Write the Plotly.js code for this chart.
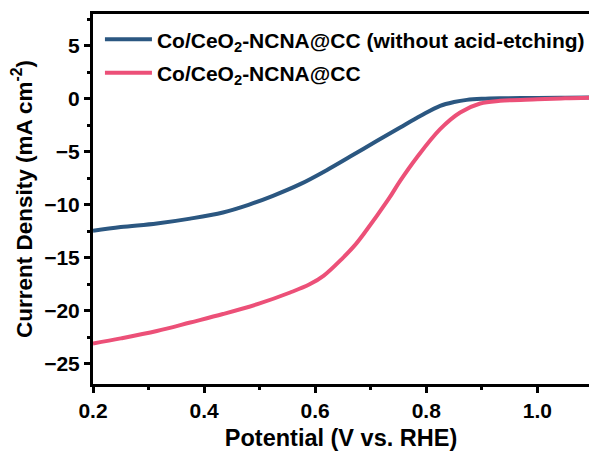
<!DOCTYPE html>
<html>
<head>
<meta charset="utf-8">
<script src="https://cdn.plot.ly/plotly-3.0.1.min.js"></script>
<style>html,body{margin:0;padding:0;background:#fff;}#chart{width:589px;height:457px;}</style>
</head>
<body>
<div id="chart"></div>
<script>
// Potential (V vs. RHE) and current density (mA cm^-2)
const potentialA = [0.20, 0.25, 0.315, 0.375, 0.434, 0.48, 0.524, 0.573, 0.62, 0.663, 0.71, 0.753, 0.79, 0.825, 0.85, 0.873, 0.90, 0.933, 1.0, 1.05, 1.095];
const currentA   = [-12.45, -12.1, -11.76, -11.3, -10.72, -10.0, -9.15, -8.05, -6.75, -5.45, -4.0, -2.7, -1.6, -0.66, -0.3, -0.1, 0.0, 0.05, 0.08, 0.1, 0.12];
const potentialB = [0.20, 0.25, 0.315, 0.375, 0.434, 0.50, 0.555, 0.59, 0.615, 0.65, 0.67, 0.687, 0.732, 0.753, 0.783, 0.825, 0.861, 0.897, 0.933, 1.0, 1.05, 1.095];
const currentB   = [-23.08, -22.6, -21.9, -21.1, -20.3, -19.3, -18.27, -17.5, -16.7, -15.0, -13.9, -12.77, -9.47, -7.74, -5.53, -2.86, -1.29, -0.44, -0.19, -0.05, 0.05, 0.1];
const seriesNames = ['Co/CeO<sub>2</sub>-NCNA@CC (without acid-etching)', 'Co/CeO<sub>2</sub>-NCNA@CC'];
const xTickVals = [0.2, 0.4, 0.6, 0.8, 1.0];
const xTickText = ['0.2', '0.4', '0.6', '0.8', '1.0'];
const yTickVals = [5, 0, -5, -10, -15, -20, -25];

const fontFam = 'Liberation Sans, Arial, sans-serif';
const traces = [
  {x: potentialA, y: currentA, name: seriesNames[0], legendgroup: 'a', mode: 'lines', line: {color: '#2b5781', width: 4, shape: 'spline', smoothing: 1}},
  {x: potentialB, y: currentB, name: seriesNames[1], legendgroup: 'b', mode: 'lines', line: {color: '#ec5078', width: 4, shape: 'spline', smoothing: 1}}
];
const layout = {
  width: 589, height: 457,
  margin: {l: 93, r: 0, t: 14, b: 73, autoexpand: false},
  paper_bgcolor: '#fff', plot_bgcolor: '#fff',
  font: {family: fontFam, color: '#000'},
  showlegend: true,
  legend: {x: 0.014, y: 0.986, xanchor: 'left', yanchor: 'top', bgcolor: 'rgba(0,0,0,0)',
           font: {size: 21, weight: 'bold', family: fontFam}, itemwidth: 47, tracegroupgap: 3},
  xaxis: {
    range: [0.2, 1.093], tickmode: 'array', tickvals: xTickVals, ticktext: xTickText,
    showgrid: false, zeroline: false, showline: true, linewidth: 3, linecolor: '#000', mirror: true,
    ticks: 'outside', ticklen: 6, tickwidth: 3, tickcolor: '#000',
    minor: {dtick: 0.1, tick0: 0.2, ticks: 'outside', ticklen: 3, tickwidth: 3, tickcolor: '#000'},
    tickfont: {size: 21, weight: 'bold', family: fontFam},
    title: {text: 'Potential (V vs. RHE)', font: {size: 23.5, weight: 'bold', family: fontFam}, standoff: 9}
  },
  yaxis: {
    range: [-26.9, 8.0], tickmode: 'array', tickvals: yTickVals,
    showgrid: false, zeroline: false, showline: true, linewidth: 3, linecolor: '#000', mirror: false,
    ticks: 'outside', ticklen: 6, tickwidth: 3, tickcolor: '#000',
    minor: {dtick: 2.5, tick0: 0, ticks: 'outside', ticklen: 3, tickwidth: 3, tickcolor: '#000'},
    tickfont: {size: 21, weight: 'bold', family: fontFam},
    title: {text: 'Current Density (mA cm<sup>-2</sup>)', font: {size: 22.5, weight: 'bold', family: fontFam}, standoff: 6}
  }
};
Plotly.newPlot('chart', traces, layout, {displayModeBar: false, staticPlot: true});
</script>
</body>
</html>
